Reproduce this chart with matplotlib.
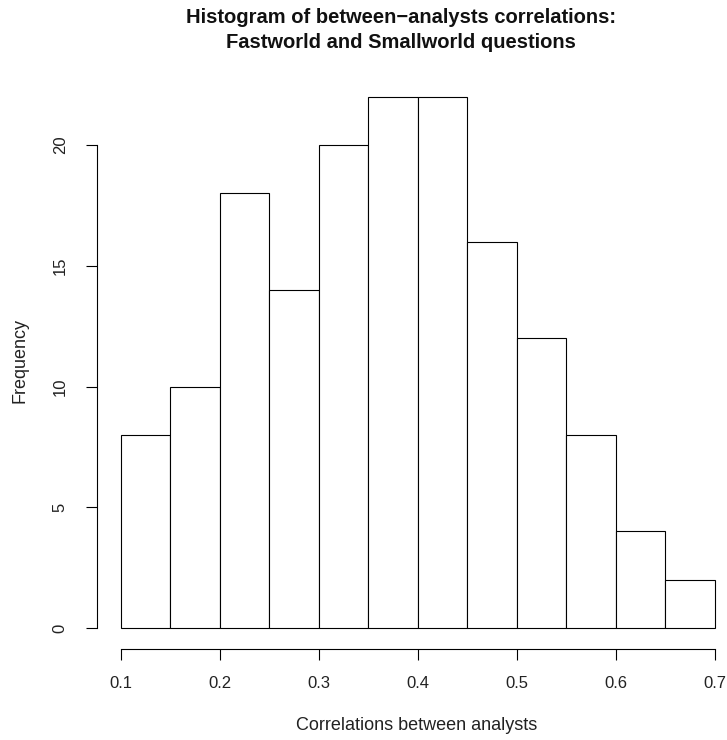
import matplotlib
matplotlib.use("Agg")
import matplotlib.pyplot as plt

# --- data ---
bin_edges = [0.10, 0.15, 0.20, 0.25, 0.30, 0.35, 0.40, 0.45, 0.50, 0.55, 0.60, 0.65, 0.70]
counts = [8, 10, 18, 14, 20, 22, 22, 16, 12, 8, 4, 2]
x_ticks = [0.1, 0.2, 0.3, 0.4, 0.5, 0.6, 0.7]
x_tick_labels = ["0.1", "0.2", "0.3", "0.4", "0.5", "0.6", "0.7"]
y_ticks = [0, 5, 10, 15, 20]

plt.rcParams['font.family'] = ['Liberation Sans', 'DejaVu Sans']

fig = plt.figure(figsize=(7.27, 7.40), dpi=100)
ax = fig.add_axes([0.1334, 0.1226, 0.8824, 0.7754])

widths = [bin_edges[i + 1] - bin_edges[i] for i in range(len(counts))]
ax.bar(bin_edges[:-1], counts, width=widths, align='edge',
       color='white', edgecolor='black', linewidth=0.8)

# R-style extended limits (4%)
ax.set_xlim(0.1 - 0.024, 0.7 + 0.024)
ax.set_ylim(-0.88, 22.88)

for s in ['top', 'right']:
    ax.spines[s].set_visible(False)
ax.spines['bottom'].set_bounds(0.1, 0.7)
ax.spines['left'].set_bounds(0, 20)
ax.spines['bottom'].set_linewidth(0.8)
ax.spines['left'].set_linewidth(0.8)

ax.set_xticks(x_ticks)
ax.set_xticklabels(x_tick_labels)
ax.set_yticks(y_ticks)
ax.set_yticklabels([str(v) for v in y_ticks], rotation=90, va='center')
ax.tick_params(axis='both', length=8, width=0.8, labelsize=12, pad=11,
               colors='black', labelcolor='#222222')
ax.tick_params(axis='y', pad=13)

fig.text(0.5516, 0.9757, "Histogram of between\u2212analysts correlations:",
         ha='center', va='center', fontsize=14.5, fontweight='bold', color='#111111')
fig.text(0.5516, 0.9419, "Fastworld and Smallworld questions",
         ha='center', va='center', fontsize=14.5, fontweight='bold', color='#111111')
fig.text(0.573, 0.020, "Correlations between analysts",
         ha='center', va='center', fontsize=13, color='#222222')
fig.text(0.028, 0.513, "Frequency", ha='center', va='center',
         rotation=90, fontsize=13, color='#222222')

fig.savefig("out.png", dpi=100)
